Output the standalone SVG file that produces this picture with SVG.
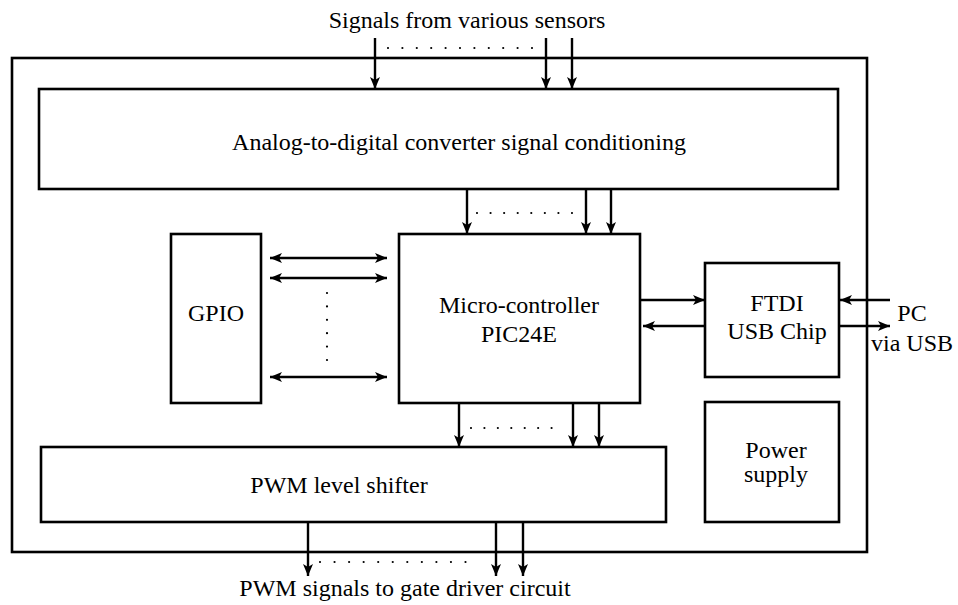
<svg xmlns="http://www.w3.org/2000/svg" width="958" height="605" viewBox="0 0 958 605">
<defs>
<marker id="ah" viewBox="0 0 12 10" refX="12" refY="5" markerWidth="12" markerHeight="10" markerUnits="userSpaceOnUse" orient="auto-start-reverse">
<path d="M0,0 L12,5 L0,10 L3,5 z" fill="#000"/>
</marker>
<style>
.box{fill:#fff;stroke:#000;stroke-width:2.6}
.ln{stroke:#000;stroke-width:2.4;fill:none}
.dot{stroke:#000;stroke-width:2.2;stroke-linecap:round;fill:none}
.t{font-family:'Liberation Serif','Times New Roman',serif;font-size:24px;fill:#000;text-anchor:middle}
</style>
</defs>
<rect width="958" height="605" fill="#fff"/>
<g id="outer"><rect class="box" x="12" y="58" width="855" height="494"/></g>
<g id="adc"><rect class="box" x="39" y="89" width="799" height="100"/><text class="t" x="459" y="150">Analog-to-digital converter signal conditioning</text></g>
<g id="gpio"><rect class="box" x="171" y="234" width="90" height="169"/><text class="t" x="216" y="321">GPIO</text></g>
<g id="mcu"><rect class="box" x="399" y="234" width="241" height="169"/><text class="t" x="519" y="313">Micro-controller</text><text class="t" x="519" y="342">PIC24E</text></g>
<g id="ftdi"><rect class="box" x="705" y="263" width="134" height="114"/><text class="t" x="777" y="311">FTDI</text><text class="t" x="777" y="339">USB Chip</text></g>
<g id="power"><rect class="box" x="705" y="402" width="134" height="120"/><text class="t" x="776" y="458">Power</text><text class="t" x="776" y="482">supply</text></g>
<g id="pwm"><rect class="box" x="41" y="447" width="625" height="75"/><text class="t" x="339" y="493">PWM level shifter</text></g>
<g id="labels">
<text class="t" x="467" y="28">Signals from various sensors</text>
<text class="t" x="912" y="321">PC</text>
<text class="t" x="912" y="351">via USB</text>
<text class="t" x="405" y="596">PWM signals to gate driver circuit</text>
</g>
<g id="connectors">
<line class="ln" x1="375" y1="38" x2="375" y2="89" marker-end="url(#ah)"/>
<line class="ln" x1="546" y1="38" x2="546" y2="89" marker-end="url(#ah)"/>
<line class="ln" x1="572" y1="38" x2="572" y2="89" marker-end="url(#ah)"/>
<line class="dot" x1="388" y1="48" x2="532" y2="48" stroke-dasharray="0 14.4"/>
<line class="ln" x1="467" y1="189" x2="467" y2="234" marker-end="url(#ah)"/>
<line class="ln" x1="586" y1="189" x2="586" y2="234" marker-end="url(#ah)"/>
<line class="ln" x1="611" y1="189" x2="611" y2="234" marker-end="url(#ah)"/>
<line class="dot" x1="477" y1="213" x2="572" y2="213" stroke-dasharray="0 13.57"/>
<line class="ln" x1="270" y1="258" x2="387" y2="258" marker-start="url(#ah)" marker-end="url(#ah)"/>
<line class="ln" x1="270" y1="278" x2="387" y2="278" marker-start="url(#ah)" marker-end="url(#ah)"/>
<line class="ln" x1="270" y1="377" x2="387" y2="377" marker-start="url(#ah)" marker-end="url(#ah)"/>
<line class="dot" x1="327" y1="293" x2="327" y2="360" stroke-dasharray="0 13.4"/>
<line class="ln" x1="640" y1="300" x2="705" y2="300" marker-end="url(#ah)"/>
<line class="ln" x1="705" y1="326" x2="643" y2="326" marker-end="url(#ah)"/>
<line class="ln" x1="890" y1="300" x2="840" y2="300" marker-end="url(#ah)"/>
<line class="ln" x1="839" y1="326" x2="890" y2="326" marker-end="url(#ah)"/>
<line class="ln" x1="459" y1="403" x2="459" y2="447" marker-end="url(#ah)"/>
<line class="ln" x1="573" y1="403" x2="573" y2="447" marker-end="url(#ah)"/>
<line class="ln" x1="599" y1="403" x2="599" y2="447" marker-end="url(#ah)"/>
<line class="dot" x1="471" y1="428" x2="565" y2="428" stroke-dasharray="0 13.43"/>
<line class="ln" x1="308" y1="522" x2="308" y2="576" marker-end="url(#ah)"/>
<line class="ln" x1="496" y1="522" x2="496" y2="576" marker-end="url(#ah)"/>
<line class="ln" x1="523" y1="522" x2="523" y2="576" marker-end="url(#ah)"/>
<line class="dot" x1="320" y1="562" x2="480" y2="562" stroke-dasharray="0 14.55"/>
</g>
</svg>
